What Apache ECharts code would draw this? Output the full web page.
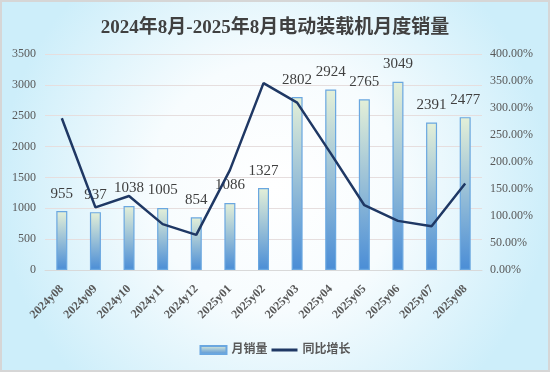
<!DOCTYPE html>
<html><head><meta charset="utf-8">
<script src="https://cdn.jsdelivr.net/npm/echarts@6/dist/echarts.min.js"></script>
<style>
html,body{margin:0;padding:0;background:#fff;}
#c{width:550px;height:372px;box-sizing:border-box;border:2px solid #d6d6d6;}
</style></head>
<body><div id="c"></div>
<script>
const categories = ['2024y08','2024y09','2024y10','2024y11','2024y12','2025y01','2025y02','2025y03','2025y04','2025y05','2025y06','2025y07','2025y08'];
const monthlySales = [955,937,1038,1005,854,1086,1327,2802,2924,2765,3049,2391,2477];
const yoyGrowth = [281,116,137,85,65,185,346,310,216,120,91,81,160];
const FONT = '"Liberation Serif","DejaVu Serif","Noto Sans CJK SC",serif';
const chart = echarts.init(document.getElementById('c'));
chart.setOption({
  backgroundColor: {type:'radial',x:0.5,y:0.5,r:0.75,colorStops:[{offset:0,color:'#ffffff'},{offset:0.45,color:'#f7fcfe'},{offset:1,color:'#cdeefa'}]},
  animation:false,
  title:{text:'2024年8月-2025年8月电动装载机月度销量',left:'center',top:12,
    textStyle:{fontFamily:FONT,fontSize:19,fontWeight:'bold',color:'#404040'}},
  legend:{bottom:9,left:'center',itemGap:4,itemWidth:26,itemHeight:8,
    textStyle:{fontFamily:FONT,fontSize:12,color:'#595959',fontWeight:'bold'},
    data:[{name:'月销量',icon:'rect'},{name:'同比增长',icon:'path://M0,0 L26,0 L26,3 L0,3 Z'}]},
  grid:{left:43,right:66,top:52,bottom:100},
  xAxis:{type:'category',data:categories,
    axisLine:{show:true,lineStyle:{color:'#d9d9d9'}},axisTick:{show:false},
    axisLabel:{rotate:45,interval:0,fontFamily:FONT,fontSize:12,fontWeight:'bold',color:'#595959',margin:17}},
  yAxis:[
    {type:'value',min:0,max:3500,interval:500,
     axisLabel:{fontFamily:FONT,fontSize:12,color:'#595959',margin:9,formatter:v=>String(v)},
     splitLine:{lineStyle:{color:'#e6dede'}},axisLine:{show:false},axisTick:{show:false}},
    {type:'value',min:0,max:400,interval:50,
     axisLabel:{fontFamily:FONT,fontSize:12,color:'#595959',margin:8,formatter:v=>v.toFixed(2)+'%'},
     splitLine:{show:false},axisLine:{show:false},axisTick:{show:false}}
  ],
  series:[
    {name:'月销量',type:'bar',data:monthlySales,barWidth:11,
     itemStyle:{color:{type:'linear',x:0,y:0,x2:0,y2:1,colorStops:[{offset:0,color:'#e4f0d8'},{offset:1,color:'#4a8dd6'}]},
       borderColor:'#6aa7e0',borderWidth:1.2},
     label:{show:true,position:'top',distance:10,fontFamily:FONT,fontSize:15,color:'#404040'},
     z:2},
    {name:'同比增长',type:'line',yAxisIndex:1,data:yoyGrowth,symbol:'none',
     lineStyle:{color:'#1f3864',width:2.5},itemStyle:{color:'#1f3864'},z:3}
  ]
});
</script></body></html>
